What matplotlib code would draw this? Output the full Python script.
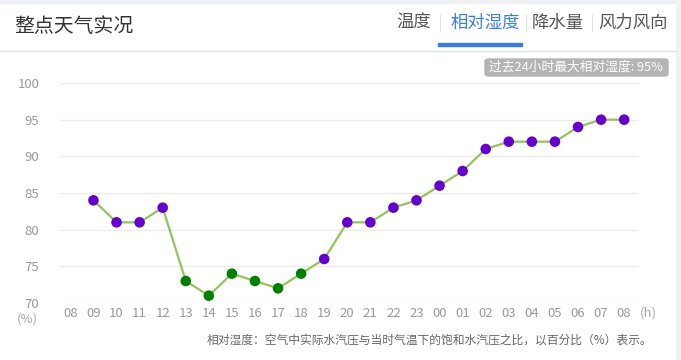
import matplotlib.pyplot as plt
from matplotlib.patches import FancyBboxPatch, Rectangle
from matplotlib.lines import Line2D

plt.rcParams['font.family'] = ['Noto Sans CJK SC', 'DejaVu Sans']

hours = ['08', '09', '10', '11', '12', '13', '14', '15', '16', '17', '18', '19', '20',
         '21', '22', '23', '00', '01', '02', '03', '04', '05', '06', '07', '08']
# no reading at the first 08
humidity = [None, 84, 81, 81, 83, 73, 71, 74, 73, 72, 74, 76, 81,
            81, 83, 84, 86, 88, 91, 92, 92, 92, 94, 95, 95]
yticks = [70, 75, 80, 85, 90, 95, 100]
tabs = ['温度', '相对湿度', '降水量', '风力风向']
tab_x = [414, 485, 558, 633]
note = '相对湿度：空气中实际水汽压与当时气温下的饱和水汽压之比，以百分比（%）表示。'
badge = '过去24小时最大相对湿度: 95%'

W, H = 681, 360
fig = plt.figure(figsize=(W / 100, H / 100), dpi=100)


def fx(px):
    return px / W


def fy(py):
    return 1 - py / H


# header
fig.patches.append(Rectangle((0, fy(3)), 1, 3 / H, transform=fig.transFigure,
                             color='#eef0f4', zorder=0))
fig.patches.append(Rectangle((fx(676), 0), 5 / W, 1, transform=fig.transFigure,
                             color='#f1f2f5', zorder=0))
fig.text(fx(14), fy(26), '整点天气实况', fontsize=14.3, color='#333333', va='center')
for i, (t, x) in enumerate(zip(tabs, tab_x)):
    fig.text(fx(x), fy(23), t, fontsize=12.5, ha='center', va='center',
             color='#3d7fe0' if i == 1 else '#555555')
for sx in [440, 526, 592]:
    fig.lines.append(Line2D([fx(sx), fx(sx)], [fy(15), fy(31)], transform=fig.transFigure,
                            color='#e0e0e0', lw=0.8))
fig.patches.append(Rectangle((fx(438), fy(46)), 84 / W, 3 / H, transform=fig.transFigure,
                             color='#3b7be0'))
fig.lines.append(Line2D([0, fx(676)], [fy(51), fy(51)], transform=fig.transFigure,
                        color='#e4e4e4', lw=1))

# badge
fig.patches.append(FancyBboxPatch((fx(485), fy(76)), 183 / W, 17 / H,
                                  boxstyle='round,pad=0,rounding_size=0.006',
                                  transform=fig.transFigure, color='#b4b4b4'))
fig.text(fx(576), fy(67.5), badge, fontsize=9.2, color='white', ha='center', va='center')

# chart
ax = fig.add_axes([fx(60), fy(303), fx(638) - fx(60), (303 - 83) / H])
x = list(range(len(hours)))
xs = [i for i, v in zip(x, humidity) if v is not None]
vs = [v for v in humidity if v is not None]
ax.plot(xs, vs, color='#94c35c', lw=1.6, zorder=2)
cols = ['#008000' if v < 75 else '#6600cc' for v in vs]
ax.scatter(xs, vs, s=58, c=cols, zorder=3, linewidths=0)

ax.set_ylim(70, 100)
ax.set_xlim(-0.45, 24.6)
ax.set_yticks(yticks)
for yv in yticks:
    ax.axhline(yv, color='#ebebeb', lw=1, zorder=1)
ax.set_xticks(x)
ax.set_xticklabels(hours)
ax.tick_params(length=0, labelsize=9.5, colors='#999999')
ax.tick_params(axis='y', pad=15)
ax.tick_params(axis='x', pad=3)
for lab in ax.get_yticklabels():
    lab.set_horizontalalignment('right')
for s in ax.spines.values():
    s.set_visible(False)
ax.patch.set_alpha(0)

fig.text(fx(27), fy(319), '(%)', fontsize=9.5, color='#aaaaaa', ha='center', va='center')
fig.text(fx(648), fy(313), '(h)', fontsize=9.5, color='#aaaaaa', ha='center', va='center')
fig.text(fx(652), fy(340), note, fontsize=8.5, color='#666666', ha='right', va='center')

fig.savefig('out.png', dpi=100)
